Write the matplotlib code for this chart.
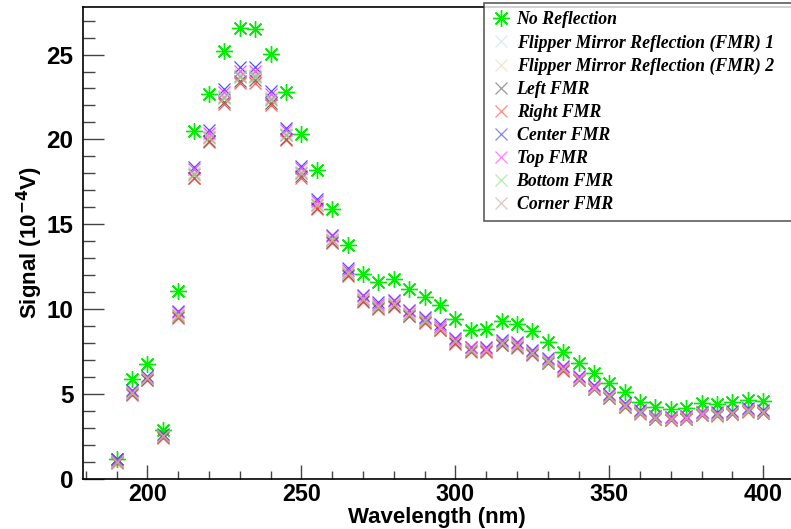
import matplotlib
matplotlib.use("Agg")
import matplotlib.pyplot as plt
from matplotlib.ticker import MultipleLocator

wavelength = [190, 195, 200, 205, 210, 215, 220, 225, 230, 235, 240, 245, 250, 255,
              260, 265, 270, 275, 280, 285, 290, 295, 300, 305, 310, 315, 320, 325,
              330, 335, 340, 345, 350, 355, 360, 365, 370, 375, 380, 385, 390, 395, 400]

no_reflection = [1.2, 5.9, 6.8, 2.9, 11.1, 20.5, 22.7, 25.2, 26.55, 26.5, 25.05, 22.8, 20.3, 18.2,
                 15.9, 13.8, 12.07, 11.6, 11.8, 11.2, 10.7, 10.26, 9.4, 8.8, 8.84, 9.3, 9.14, 8.69,
                 8.08, 7.47, 6.82, 6.27, 5.64, 5.11, 4.54, 4.26, 4.11, 4.17, 4.46, 4.42, 4.56, 4.66, 4.62]

fmr1 = [1.06, 5.12, 5.97, 2.57, 9.75, 18.10, 20.28, 22.62, 23.88, 23.90, 22.52, 20.40, 18.15, 16.25,
        14.20, 12.24, 10.69, 10.24, 10.39, 9.80, 9.40, 8.97, 8.18, 7.68, 7.67, 8.07, 7.93, 7.49,
        6.98, 6.54, 5.96, 5.43, 4.91, 4.38, 3.97, 3.66, 3.60, 3.66, 3.89, 3.85, 3.93, 4.09, 3.99]

fmr2 = [1.04, 5.08, 5.94, 2.54, 9.68, 18.00, 20.15, 22.50, 23.75, 23.78, 22.42, 20.32, 18.08, 16.18,
        14.13, 12.18, 10.63, 10.18, 10.33, 9.75, 9.35, 8.92, 8.13, 7.63, 7.63, 8.02, 7.88, 7.45,
        6.94, 6.50, 5.92, 5.39, 4.87, 4.34, 3.93, 3.62, 3.56, 3.62, 3.85, 3.81, 3.89, 4.05, 3.95]

left_fmr = [0.98, 4.98, 5.85, 2.45, 9.55, 17.75, 19.90, 22.20, 23.45, 23.50, 22.15, 20.05, 17.85, 15.95,
            13.95, 12.02, 10.50, 10.05, 10.20, 9.62, 9.22, 8.80, 8.02, 7.53, 7.53, 7.92, 7.78, 7.35,
            6.85, 6.41, 5.84, 5.31, 4.80, 4.27, 3.87, 3.56, 3.50, 3.56, 3.79, 3.75, 3.83, 3.98, 3.89]

right_fmr = [0.95, 4.95, 5.82, 2.42, 9.50, 17.70, 19.85, 22.10, 23.35, 23.35, 22.05, 19.95, 17.75, 15.90,
             13.90, 11.98, 10.45, 10.00, 10.15, 9.58, 9.18, 8.76, 7.98, 7.50, 7.50, 7.88, 7.74, 7.32,
             6.82, 6.38, 5.81, 5.29, 4.78, 4.25, 3.85, 3.54, 3.48, 3.54, 3.77, 3.73, 3.80, 3.96, 3.86]

center_fmr = [1.15, 5.25, 6.05, 2.65, 9.90, 18.40, 20.55, 22.95, 24.25, 24.25, 22.85, 20.70, 18.45, 16.50,
              14.40, 12.40, 10.85, 10.40, 10.55, 9.95, 9.55, 9.10, 8.30, 7.80, 7.80, 8.20, 8.05, 7.60,
              7.10, 6.65, 6.05, 5.52, 5.00, 4.46, 4.05, 3.74, 3.68, 3.74, 3.97, 3.93, 4.01, 4.17, 4.07]

top_fmr = [1.10, 5.18, 6.02, 2.60, 9.85, 18.25, 20.40, 22.80, 24.05, 24.05, 22.70, 20.55, 18.30, 16.38,
           14.30, 12.32, 10.78, 10.32, 10.47, 9.88, 9.48, 9.04, 8.25, 7.75, 7.74, 8.14, 8.00, 7.56,
           7.05, 6.60, 6.01, 5.47, 4.95, 4.41, 4.00, 3.69, 3.63, 3.69, 3.92, 3.88, 3.96, 4.12, 4.02]

bottom_fmr = [1.02, 5.05, 5.92, 2.52, 9.62, 17.92, 20.08, 22.42, 23.68, 23.70, 22.35, 20.25, 18.02, 16.12,
              14.08, 12.14, 10.60, 10.14, 10.30, 9.72, 9.32, 8.90, 8.11, 7.61, 7.61, 8.00, 7.86, 7.43,
              6.92, 6.48, 5.90, 5.37, 4.85, 4.32, 3.91, 3.60, 3.54, 3.60, 3.83, 3.79, 3.87, 4.03, 3.93]

corner_fmr = [1.03, 5.07, 5.93, 2.53, 9.66, 17.98, 20.12, 22.47, 23.72, 23.74, 22.38, 20.29, 18.05, 16.15,
              14.10, 12.16, 10.62, 10.16, 10.32, 9.74, 9.34, 8.91, 8.12, 7.62, 7.62, 8.01, 7.87, 7.44,
              6.93, 6.49, 5.91, 5.38, 4.86, 4.33, 3.92, 3.61, 3.55, 3.61, 3.84, 3.80, 3.88, 4.04, 3.94]

series = [
    ("Flipper Mirror Reflection (FMR) 1", fmr1, "#c4dede"),
    ("Flipper Mirror Reflection (FMR) 2", fmr2, "#e0d8b0"),
    ("Left FMR", left_fmr, "#555555"),
    ("Right FMR", right_fmr, "#ff3c3c"),
    ("Center FMR", center_fmr, "#3030ff"),
    ("Top FMR", top_fmr, "#ff30ff"),
    ("Bottom FMR", bottom_fmr, "#7ee07e"),
    ("Corner FMR", corner_fmr, "#c8a0a0"),
]

fig = plt.figure(figsize=(7.91, 5.29), dpi=100)
ax = fig.add_axes([83 / 791, 1 - 479 / 529, 1 - 83 / 791, (479 - 7) / 529])

handles = []
h, = ax.plot(wavelength, no_reflection, linestyle="none", marker=(8, 2, 0),
             markersize=12, markeredgewidth=1.0, color="#00ee00", label="No Reflection")
handles.append(h)
for name, vals, col in series:
    h, = ax.plot(wavelength, vals, linestyle="none", marker="x", markersize=8.5,
                 markeredgewidth=0.9, color=col, label=name, alpha=0.85)
    handles.append(h)

ax.set_xlim(179.1, 409)
ax.set_ylim(0, 27.8)

ax.xaxis.set_major_locator(MultipleLocator(50))
ax.xaxis.set_minor_locator(MultipleLocator(10))
ax.yaxis.set_major_locator(MultipleLocator(5))
ax.yaxis.set_minor_locator(MultipleLocator(1))
ax.tick_params(axis="both", which="both", direction="in", color="#444444", width=1.0)
ax.tick_params(axis="x", which="major", length=10, pad=3, top=False)
ax.tick_params(axis="x", which="minor", length=6, top=False)
ax.tick_params(axis="y", which="major", length=15, pad=7, right=False)
ax.tick_params(axis="y", which="minor", length=8.5, right=False)

for lab in ax.get_xticklabels():
    lab.set_fontfamily("Liberation Sans")
    lab.set_fontweight("bold")
    lab.set_fontsize(16.8)
for lab in ax.get_yticklabels():
    lab.set_fontfamily("Liberation Sans")
    lab.set_fontweight("bold")
    lab.set_fontsize(17.5)

ax.spines["right"].set_visible(False)
for s in ("left", "bottom", "top"):
    ax.spines[s].set_linewidth(1.2)
    ax.spines[s].set_color("black")

ax.set_xlabel("Wavelength (nm)", fontfamily="Liberation Sans", fontweight="bold",
              fontsize=16, labelpad=0.5)
ax.set_ylabel(r"Signal (10$^{\mathbf{-4}}$V)", fontfamily="Liberation Sans", fontweight="bold",
              fontsize=16, labelpad=1)

leg = ax.legend(handles=handles, loc="upper left", bbox_to_anchor=(0.566, 1.008, 0.45, 0.0),
                mode="expand", borderaxespad=0, frameon=True, fancybox=False, shadow=False,
                prop={"family": "Liberation Serif", "weight": "bold", "style": "italic", "size": 12.8},
                handlelength=1.0, handletextpad=0.4, labelspacing=0.34, borderpad=0.45,
                markerscale=1.0)
leg.get_frame().set_edgecolor("#333333")
leg.get_frame().set_linewidth(1.2)
for lh in leg.legend_handles:
    lh.set_alpha(0.6)
leg.legend_handles[0].set_alpha(1.0)

fig.savefig("out.png", dpi=100)
